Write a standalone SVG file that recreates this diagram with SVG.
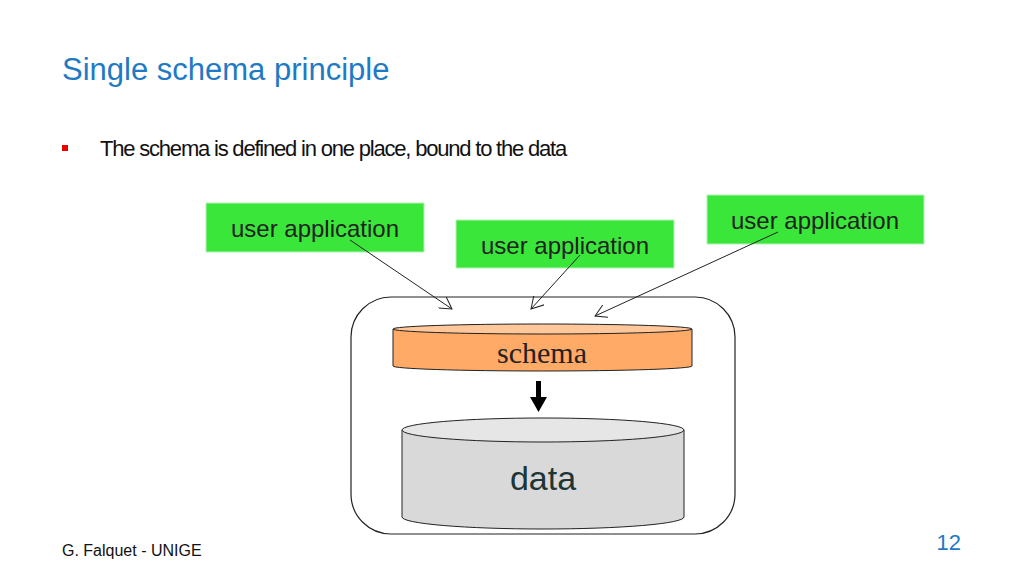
<svg xmlns="http://www.w3.org/2000/svg" width="1024" height="576" viewBox="0 0 1024 576">
<style>
.g{fill:#39e639;stroke:#b7f0b7;stroke-width:1}
.gt{font-family:"Liberation Sans",Arial,sans-serif;font-size:24px;fill:#222}
.c{stroke:#222;stroke-width:1;fill:none}
</style>
<defs><marker id="a" markerWidth="14" markerHeight="14" refX="12" refY="7" orient="auto" markerUnits="userSpaceOnUse"><path d="M0,0 L12,7 L0,14" fill="none" stroke="#222" stroke-width="1"/></marker></defs>
<rect width="1024" height="576" fill="#fff"/>
<text x="62" y="80" font-family="Liberation Sans,Arial,sans-serif" font-size="31" fill="#1f7ac4">Single schema principle</text>
<rect x="62" y="145" width="6" height="6" fill="#e00"/>
<text x="100" y="156" font-family="Liberation Sans Narrow,Liberation Sans,sans-serif" font-size="22" letter-spacing="-1.2" fill="#111">The schema is defined in one place, bound to the data</text>
<g id="container"><rect x="351" y="297" width="384" height="237" rx="40" fill="none" stroke="#222" stroke-width="1.2"/></g>
<g id="schema">
<path d="M393,329 V366 A149.5,5 0 0 0 692,366 V329" fill="#ffaa66" stroke="#222"/>
<ellipse cx="542.5" cy="329" rx="149.5" ry="5" fill="#ffc79a" stroke="#222"/>
<text x="542" y="363" text-anchor="middle" font-family="Liberation Serif,serif" font-size="30" fill="#222">schema</text>
</g>
<g id="data">
<path d="M402,430 V517 A141,12 0 0 0 684,517 V430" fill="#d9d9d9" stroke="#222"/>
<ellipse cx="543" cy="430" rx="141" ry="12" fill="#e6e6e6" stroke="#222"/>
<text x="543" y="490" text-anchor="middle" font-family="Liberation Sans,Arial,sans-serif" font-size="34" fill="#1d3535">data</text>
</g>
<g id="app1"><rect class="g" x="206" y="203" width="218" height="49"/><text class="gt" x="315" y="237" text-anchor="middle">user application</text></g>
<g id="app2"><rect class="g" x="456" y="220" width="218" height="48"/><text class="gt" x="565" y="254" text-anchor="middle">user application</text></g>
<g id="app3"><rect class="g" x="707" y="195" width="217" height="49"/><text class="gt" x="815" y="229" text-anchor="middle">user application</text></g>
<g id="connectors">
<line class="c" x1="350" y1="240" x2="452" y2="309" marker-end="url(#a)"/>
<line class="c" x1="580" y1="255" x2="531" y2="309" marker-end="url(#a)"/>
<line class="c" x1="778" y1="232" x2="595" y2="316" marker-end="url(#a)"/>
<path d="M536,381 H541 V397 H547 L538.5,412 L530,397 H536 Z" fill="#000"/>
</g>
<text x="62" y="556" font-family="Liberation Sans,Arial,sans-serif" font-size="16" fill="#111">G. Falquet - UNIGE</text>
<text x="961" y="550" text-anchor="end" font-family="Liberation Sans,Arial,sans-serif" font-size="22" fill="#1f7ac4">12</text>
</svg>
